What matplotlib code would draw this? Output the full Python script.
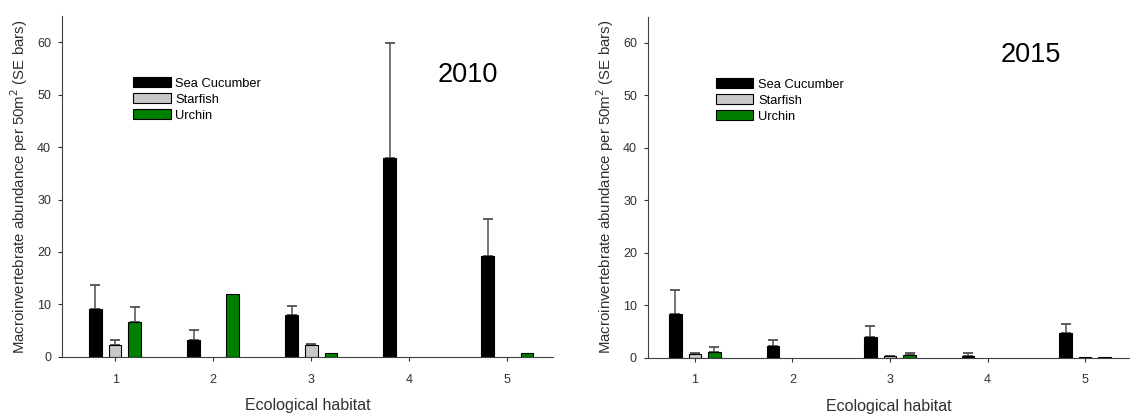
import matplotlib.pyplot as plt
import numpy as np

plt.rcParams["font.family"] = ["Liberation Sans", "DejaVu Sans"]

habitats = [1, 2, 3, 4, 5]
species = ["Sea Cucumber", "Starfish", "Urchin"]
colors = ["black", "#c8c8c8", "#008000"]

# 2010 means and upper SE bar lengths
cucumber_2010 = [9.2, 3.2, 8.0, 38.0, 19.2]
cucumber_2010_se = [4.5, 2.0, 1.8, 21.8, 7.0]
starfish_2010 = [2.3, 0, 2.3, 0, 0]
starfish_2010_se = [0.9, 0, 0.2, 0, 0]
urchin_2010 = [6.6, 12.0, 0.8, 0, 0.8]
urchin_2010_se = [2.9, 0, 0, 0, 0]

# 2015
cucumber_2015 = [8.4, 2.2, 3.9, 0.4, 4.7]
cucumber_2015_se = [4.5, 1.1, 2.2, 0.6, 1.7]
starfish_2015 = [0.8, 0, 0.3, 0, 0.2]
starfish_2015_se = [0.2, 0, 0.1, 0, 0]
urchin_2015 = [1.1, 0, 0.5, 0, 0.2]
urchin_2015_se = [0.9, 0, 0.5, 0, 0]

years = {
    "2010": ([cucumber_2010, starfish_2010, urchin_2010],
             [cucumber_2010_se, starfish_2010_se, urchin_2010_se]),
    "2015": ([cucumber_2015, starfish_2015, urchin_2015],
             [cucumber_2015_se, starfish_2015_se, urchin_2015_se]),
}

fig = plt.figure(figsize=(11.3, 4.17), dpi=100)
ax1 = fig.add_axes([0.055, 0.144, 0.434, 0.818])
ax2 = fig.add_axes([0.5735, 0.142, 0.4265, 0.818])

settings = [
    (ax1, "2010", (0.46, 5.46), (4.6, 53.7), 0.145),
    (ax2, "2015", (0.52, 5.46), (4.44, 57.7), 0.141),
]

x = np.array(habitats)
offsets = [-0.2, 0, 0.2]
width = 0.13

for ax, year, xlim, title_pos, leg_x in settings:
    means, ses = years[year]
    for i in range(3):
        m = np.array(means[i])
        e = np.array(ses[i])
        pos = x + offsets[i]
        show = m > 0
        ax.bar(pos[show], m[show], width, color=colors[i], edgecolor="black",
               linewidth=0.8, label=species[i], zorder=2)
        has_err = e > 0
        ax.errorbar(pos[has_err], m[has_err],
                    yerr=[np.zeros(has_err.sum()), e[has_err]],
                    fmt="none", ecolor="#505050", elinewidth=1.1,
                    capsize=3.5, capthick=1.3, zorder=1)
    ax.set_xlim(*xlim)
    ax.set_ylim(0, 65)
    ax.set_yticks([0, 10, 20, 30, 40, 50, 60])
    ax.set_xticks(habitats)
    ax.spines["top"].set_visible(False)
    ax.spines["right"].set_visible(False)
    ax.spines["left"].set_color("#404040")
    ax.spines["bottom"].set_color("#404040")
    ax.tick_params(axis="both", labelsize=9, colors="#303030", length=3)
    ax.tick_params(axis="x", pad=9)
    ax.tick_params(axis="y", pad=5)
    ax.set_xlabel("Ecological habitat", fontsize=11.5, color="#303030", labelpad=9)
    ax.set_ylabel("Macroinvertebrate abundance per 50m$^2$ (SE bars)", fontsize=10.8,
                  color="#303030", labelpad=5)
    ax.text(title_pos[0], title_pos[1], year, fontsize=19.5, ha="center", va="center")
    ax.legend(loc="upper left", bbox_to_anchor=(leg_x, 0.82), frameon=False,
              fontsize=9.3, handlelength=2.9, handleheight=0.8,
              handletextpad=0.35, labelspacing=0.28, borderaxespad=0, borderpad=0)

fig.savefig("out.png", dpi=100)
